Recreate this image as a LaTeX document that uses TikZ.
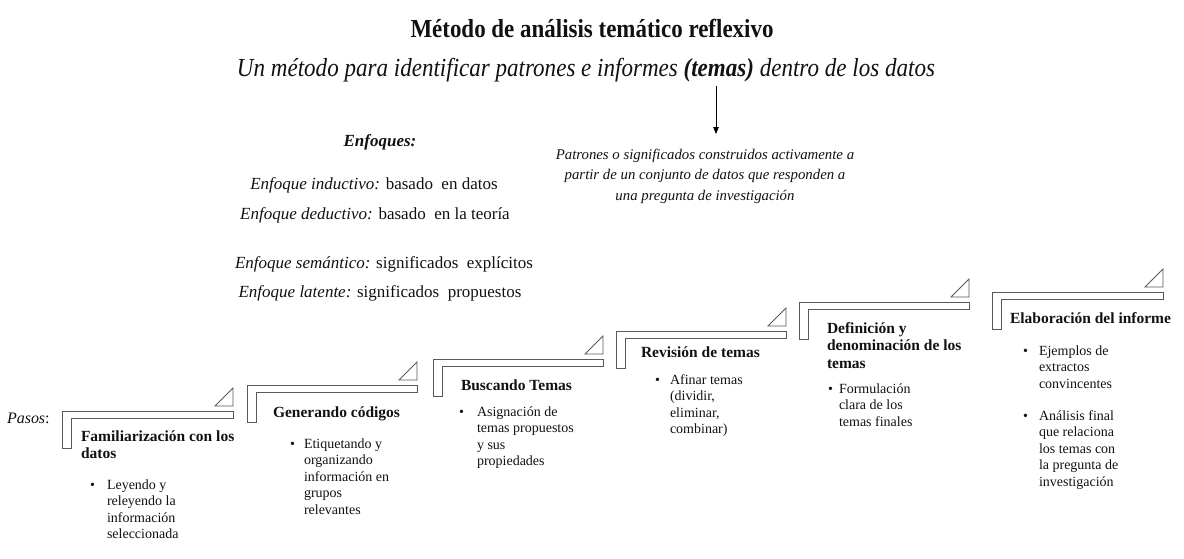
\documentclass[tikz,border=0pt]{standalone}
\usepackage{fontspec}
\setmainfont{Liberation Serif}
\usetikzlibrary{arrows.meta}
\definecolor{stepgray}{HTML}{595959}
\definecolor{txt}{HTML}{111111}
\newcommand\stepshape[3]{%
  \draw[stepline] (#1,#2) -- (#3,#2) -- (#3,#2+7) -- (#1+9,#2+7) -- (#1+9,#2+37) -- (#1,#2+37) -- cycle;
  \draw[stepline] (#3-18,#2-5) -- (#3,#2-5) -- (#3,#2-23) -- cycle;}
\begin{document}
\begin{tikzpicture}[x=1pt,y=-1pt,
  stepline/.style={draw=stepgray,line width=0.9pt},
  base/.style={inner sep=0pt,outer sep=0pt,text=txt},
  ttl/.style={base,anchor=base west,align=left,font=\fontsize{15.5}{17.8}\selectfont\bfseries},
  bul/.style={base,anchor=base west,align=left,font=\fontsize{14}{16.6}\selectfont},
  enf/.style={base,anchor=base,font=\fontsize{17}{20}\selectfont},
  pat/.style={base,anchor=base,align=center,font=\fontsize{14.8}{20.5}\selectfont\itshape}]
\useasboundingbox (0,0) rectangle (1184,558);

% header
\node[base,anchor=base] (title) at (592,37) {\resizebox{363pt}{\height}{\fontsize{26}{30}\selectfont\bfseries Método de análisis temático reflexivo}};
\node[base,anchor=base] (sub) at (586,76) {\resizebox{698pt}{\height}{\fontsize{26}{30}\selectfont\itshape Un método para identificar patrones e informes \textbf{(temas)} dentro de los datos}};
\coordinate (arrS) at (716,86);
\coordinate (arrE) at (716,134);
\draw[line width=0.8pt,-{Triangle[length=7pt,width=5.5pt]}] (arrS) -- (arrE);
\node[pat] (pat) at (705,200) {Patrones o significados construidos activamente a\\partir de un conjunto de datos que responden a\\una pregunta de investigación};

% enfoques
\node[enf] (enfq) at (380,146) {\textbf{\textit{Enfoques:}}};
\node[enf] (e1) at (374,189) {\textit{Enfoque inductivo:} basado\ \ en datos};
\node[enf] (e2) at (375,219) {\textit{Enfoque deductivo:} basado\ \ en la teoría};
\node[enf] (e3) at (384,268) {\textit{Enfoque semántico:} significados\ \ explícitos};
\node[enf] (e4) at (380,297) {\textit{Enfoque latente:} significados\ \ propuestos};

% pasos
\node[base,anchor=base west,font=\fontsize{16}{19}\selectfont] (pasos) at (7,423) {\textit{Pasos}:};

% step shapes
\stepshape{62}{411}{233}
\stepshape{247}{385}{417}
\stepshape{433}{359}{603}
\stepshape{616}{331}{786}
\stepshape{799}{302}{969}
\stepshape{992}{292}{1163}

% step 1
\node[ttl] (s1) at (81,458.8) {Familiarización con los\\datos};
\node[bul] (s1b) at (90,489) {•};
\node[bul] (s1t) at (107,538.8) {Leyendo y\\releyendo la\\información\\seleccionada};
% step 2
\node[ttl] (s2) at (273,417) {Generando códigos};
\node[bul] (s2b) at (290,448) {•};
\node[bul] (s2t) at (304,514.4) {Etiquetando y\\organizando\\información en\\grupos\\relevantes};
% step 3
\node[ttl] (s3) at (461,390) {Buscando Temas};
\node[bul] (s3b) at (459,416) {•};
\node[bul] (s3t) at (477,465.8) {Asignación de\\temas propuestos\\y sus\\propiedades};
% step 4
\node[ttl] (s4) at (641,357) {Revisión de temas};
\node[bul] (s4b) at (655,384) {•};
\node[bul] (s4t) at (670,433.8) {Afinar temas\\(dividir,\\eliminar,\\combinar)};
% step 5
\node[ttl] (s5) at (827,368.6) {Definición y\\denominación de los\\temas};
\node[bul] (s5b) at (828,393) {•};
\node[bul] (s5t) at (839,426.2) {Formulación\\clara de los\\temas finales};
% step 6
\node[ttl] (s6) at (1010,323) {Elaboración del informe};
\node[bul] (s6b) at (1023,355) {•};
\node[bul] (s6t) at (1039,388.2) {Ejemplos de\\extractos\\convincentes};
\node[bul] (s6c) at (1023,420) {•};
\node[bul] (s6u) at (1039,486.4) {Análisis final\\que relaciona\\los temas con\\la pregunta de\\investigación};
\end{tikzpicture}
\end{document}
